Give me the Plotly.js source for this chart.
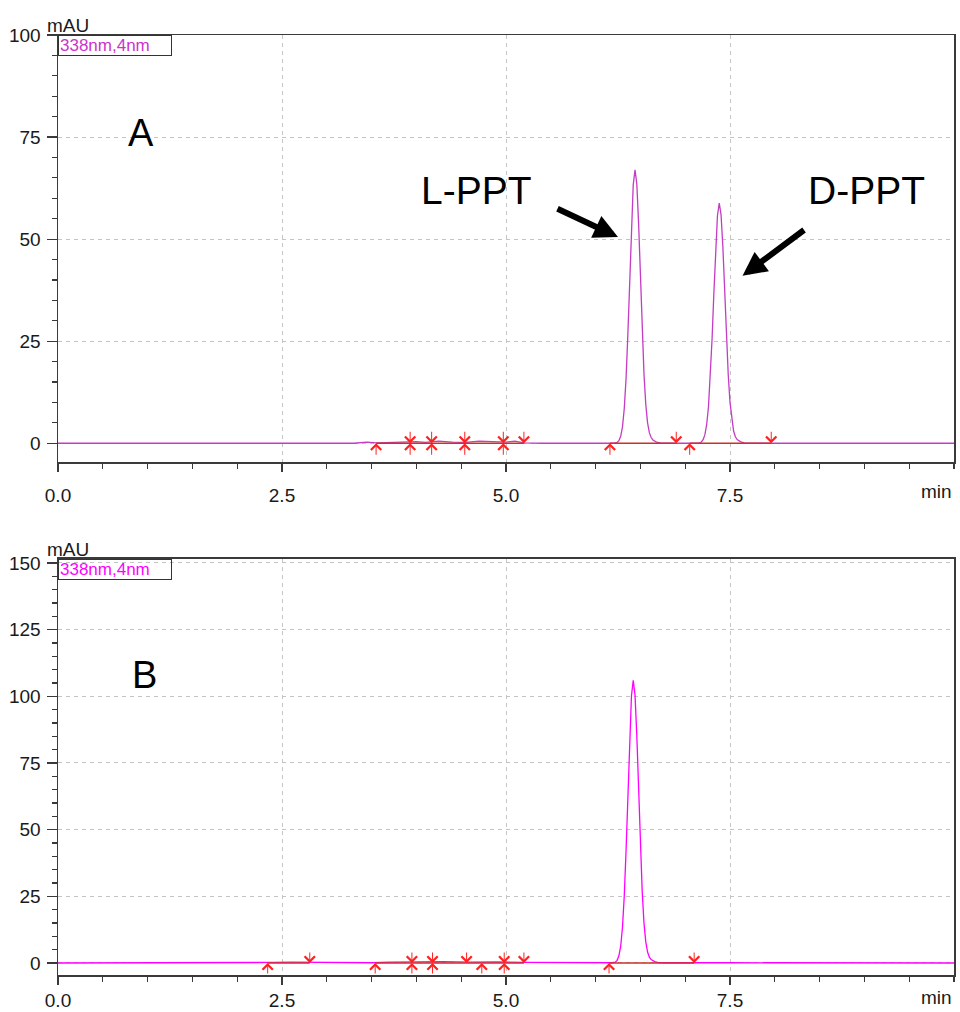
<!DOCTYPE html>
<html>
<head>
<meta charset="utf-8">
<script src="https://cdn.plot.ly/plotly-3.0.1.min.js"></script>
<style>html,body{margin:0;padding:0;background:#fff;}#chart{width:960px;height:1012px;}</style>
</head>
<body>
<div id="chart"></div>
<script>
// ---------- Data ----------
// Panel A chromatogram (min, mAU)
const timeA = [0, 3.30, 3.45, 3.55, 3.75, 3.90, 4.00, 4.10, 4.25, 4.40, 4.55, 4.70, 4.85, 5.00, 5.10, 5.20, 5.40, 6.20,
  6.24, 6.26, 6.28, 6.30, 6.32, 6.34, 6.36, 6.38, 6.40, 6.42, 6.44, 6.46, 6.48, 6.50, 6.52, 6.54, 6.56, 6.58, 6.60, 6.62, 6.64, 6.68, 6.72, 6.80, 7.10,
  7.16, 7.18, 7.20, 7.22, 7.24, 7.26, 7.28, 7.30, 7.32, 7.34, 7.36, 7.38, 7.40, 7.42, 7.44, 7.46, 7.48, 7.50, 7.52, 7.54, 7.56, 7.58, 7.62, 7.66, 7.72, 10];
const absA = [0, 0, 0.3, 0.1, 0.2, 0.3, 0.4, 0.2, 0.5, 0.3, 0.2, 0.5, 0.4, 0.3, 0.5, 0.1, 0, 0,
  0.2, 0.64, 1.7, 4.0, 8.5, 15.9, 26.7, 39.9, 53.2, 63.3, 67.0, 63.5, 53.8, 40.8, 27.8, 17.0, 9.5, 5.0, 2.6, 1.4, 0.8, 0.3, 0.1, 0, 0,
  0.1, 0.32, 0.87, 2.1, 4.6, 9.0, 16.0, 25.6, 36.8, 47.8, 55.8, 58.8, 56.0, 48.3, 37.5, 26.5, 16.9, 10.0, 5.6, 3.0, 1.6, 0.9, 0.35, 0.1, 0, 0];

// Panel B chromatogram (min, mAU)
const timeB = [0, 2.30, 2.40, 2.60, 2.80, 3.00, 3.50, 3.70, 4.00, 4.30, 4.60, 4.90, 5.20, 5.50, 6.18,
  6.22, 6.24, 6.26, 6.28, 6.30, 6.32, 6.34, 6.36, 6.38, 6.40, 6.42, 6.44, 6.46, 6.48, 6.50, 6.52, 6.54, 6.56, 6.58, 6.60, 6.62, 6.66, 6.70, 6.80, 7.50, 10];
const absB = [0, 0, 0.2, 0.3, 0.2, 0.1, 0.1, 0.3, 0.4, 0.5, 0.3, 0.4, 0.2, 0.1, 0.1,
  0.3, 1.0, 2.7, 6.3, 13.4, 25.2, 42.2, 63.1, 84.2, 100.1, 106.0, 100.5, 85.1, 64.5, 44.0, 26.9, 15.0, 7.9, 4.1, 2.2, 1.3, 0.5, 0.16, 0.1, 0.1, 0];

// Integration marks (min)
const upA = [3.55, 3.93, 4.17, 4.54, 4.97, 6.16, 7.05];
const downA = [3.93, 4.17, 4.54, 4.97, 5.20, 6.90, 7.96];
const baseStartA = [3.55, 6.16, 7.05];
const baseEndA = [5.20, 6.90, 7.96];

const upB = [2.34, 3.54, 3.95, 4.18, 4.73, 4.98, 6.15];
const downB = [2.81, 3.95, 4.18, 4.56, 4.98, 5.20, 7.10];
const baseStartB = [2.34, 3.54, 6.15];
const baseEndB = [2.81, 5.20, 7.10];

// Tick labels
const xTickVals = [0, 2.5, 5, 7.5];
const xTickText = ['0.0', '2.5', '5.0', '7.5'];
const yTickValsA = [0, 25, 50, 75, 100];
const yTickValsB = [0, 25, 50, 75, 100, 125, 150];
const channelLabel = '338nm,4nm';

// ---------- Styles ----------
const FONT = 'Liberation Sans, Arial, sans-serif';
const colA = '#c43cc4';
const colB = '#ff00ff';
const red = '#ff2020';
const baseRed = '#cc3026';
const axisCol = '#3a3a3a';

function segs(starts, ends) {
  const xs = [], ys = [];
  starts.forEach((s, i) => { xs.push(s, ends[i], null); ys.push(0, 0, null); });
  return {xs, ys};
}
const sA = segs(baseStartA, baseEndA);
const sB = segs(baseStartB, baseEndB);

const traces = [
  {x: timeA, y: absA, type: 'scatter', mode: 'lines', line: {color: colA, width: 1.3}, xaxis: 'x', yaxis: 'y', hoverinfo: 'skip'},
  {x: sA.xs, y: sA.ys, type: 'scatter', mode: 'lines', line: {color: baseRed, width: 1.5}, xaxis: 'x', yaxis: 'y', hoverinfo: 'skip'},
  {x: timeB, y: absB, type: 'scatter', mode: 'lines', line: {color: colB, width: 1.3}, xaxis: 'x2', yaxis: 'y2', hoverinfo: 'skip'},
  {x: sB.xs, y: sB.ys, type: 'scatter', mode: 'lines', line: {color: baseRed, width: 1.5}, xaxis: 'x2', yaxis: 'y2', hoverinfo: 'skip'}
];

function markAnn(xs, xr, yr, dir, len) {
  return xs.map(t => ({
    x: t, y: 0, xref: xr, yref: yr, text: '', showarrow: true,
    ax: 0, ay: dir === 'up' ? len : -len, axref: 'pixel', ayref: 'pixel',
    arrowhead: 4, arrowsize: 2.0, arrowwidth: 1, arrowcolor: red, standoff: 0, startstandoff: 0
  }));
}

function xaxisCfg(anchor, standoff) {
  return {
    range: [0, 10], anchor: anchor, showline: true, linecolor: axisCol, linewidth: 1.5, mirror: true,
    ticks: 'outside', ticklen: 8, tickcolor: axisCol, tickwidth: 1.2,
    tickvals: xTickVals, ticktext: xTickText, ticklabelstandoff: standoff,
    tickfont: {family: FONT, size: 19, color: '#1a1a1a'},
    showgrid: true, gridcolor: '#c4c4c4', griddash: '4px,4px', gridwidth: 1,
    minor: {dtick: 0.5, tick0: 0, ticks: 'outside', ticklen: 5, tickcolor: axisCol, showgrid: false},
    zeroline: false, fixedrange: true
  };
}
function yaxisCfg(range, domain, anchor, vals) {
  return {
    range: range, domain: domain, anchor: anchor, showline: true, linecolor: axisCol, linewidth: 1.5, mirror: true,
    ticks: 'outside', ticklen: 10, tickcolor: axisCol, tickwidth: 1.2,
    tickvals: vals, tickfont: {family: FONT, size: 19, color: '#1a1a1a'}, ticklabelstandoff: 2,
    showgrid: true, gridcolor: '#c4c4c4', griddash: '4px,4px', gridwidth: 1,
    minor: {dtick: 5, tick0: 0, ticks: 'outside', ticklen: 5, tickcolor: axisCol, showgrid: false},
    zeroline: false, fixedrange: true
  };
}

const annotations = [
  // channel boxes
  {xref: 'x domain', yref: 'y domain', x: 0, y: 1, xanchor: 'left', yanchor: 'top', text: channelLabel, showarrow: false,
   font: {family: FONT, size: 17, color: '#cc33cc'}, bordercolor: '#333', borderwidth: 1, borderpad: 1, width: 110, height: 17, align: 'left'},
  {xref: 'x2 domain', yref: 'y2 domain', x: 0, y: 1, xanchor: 'left', yanchor: 'top', text: channelLabel, showarrow: false,
   font: {family: FONT, size: 17, color: '#ff00ff'}, bordercolor: '#333', borderwidth: 1, borderpad: 1, width: 110, height: 17, align: 'left'},
  // unit labels
  {xref: 'x domain', yref: 'y domain', x: 0, y: 1, xanchor: 'left', yanchor: 'bottom', xshift: -13, yshift: -3, text: 'mAU', showarrow: false,
   font: {family: FONT, size: 19, color: '#1a1a1a'}},
  {xref: 'x2 domain', yref: 'y2 domain', x: 0, y: 1, xanchor: 'left', yanchor: 'bottom', xshift: -13, yshift: -3, text: 'mAU', showarrow: false,
   font: {family: FONT, size: 19, color: '#1a1a1a'}},
  {xref: 'x domain', yref: 'y domain', x: 1, y: 0, xanchor: 'right', yanchor: 'top', yshift: -17, text: 'min', showarrow: false,
   font: {family: FONT, size: 19, color: '#1a1a1a'}},
  {xref: 'x2 domain', yref: 'y2 domain', x: 1, y: 0, xanchor: 'right', yanchor: 'top', yshift: -10, text: 'min', showarrow: false,
   font: {family: FONT, size: 19, color: '#1a1a1a'}},
  // panel letters
  {xref: 'x', yref: 'y', x: 0.93, y: 76, text: 'A', showarrow: false, font: {family: FONT, size: 38, color: '#000'}},
  {xref: 'x2', yref: 'y2', x: 0.96, y: 108, text: 'B', showarrow: false, font: {family: FONT, size: 38, color: '#000'}},
  // peak labels
  {xref: 'x', yref: 'y', x: 4.67, y: 62, text: 'L-PPT', showarrow: false, font: {family: FONT, size: 39, color: '#000'}},
  {xref: 'x', yref: 'y', x: 9.02, y: 62, text: 'D-PPT', showarrow: false, font: {family: FONT, size: 39, color: '#000'}},
  // big black arrows
  {xref: 'x', yref: 'y', x: 6.25, y: 50.5, ax: -62, ay: -29, text: '', showarrow: true, arrowhead: 2, arrowsize: 0.8, arrowwidth: 6, arrowcolor: '#000', standoff: 0},
  {xref: 'x', yref: 'y', x: 7.64, y: 41, ax: 63, ay: -47, text: '', showarrow: true, arrowhead: 2, arrowsize: 0.8, arrowwidth: 6, arrowcolor: '#000', standoff: 0}
].concat(
  markAnn(upA, 'x', 'y', 'up', 13), markAnn(downA, 'x', 'y', 'down', 13),
  markAnn(upB, 'x2', 'y2', 'up', 12), markAnn(downB, 'x2', 'y2', 'down', 12)
);

const layout = {
  width: 960, height: 1012,
  margin: {l: 58, r: 6, t: 35, b: 37},
  paper_bgcolor: '#fff', plot_bgcolor: '#fff',
  showlegend: false,
  font: {family: FONT, color: '#1a1a1a'},
  xaxis: xaxisCfg('y', 8),
  yaxis: yaxisCfg([-4.6, 100], [0.5457, 1], 'x', yTickValsA),
  xaxis2: xaxisCfg('y2', 0),
  yaxis2: yaxisCfg([-4.5, 151.5], [0, 0.4426], 'x2', yTickValsB),
  annotations: annotations
};

Plotly.newPlot('chart', traces, layout, {staticPlot: true, displayModeBar: false});
</script>
</body>
</html>
